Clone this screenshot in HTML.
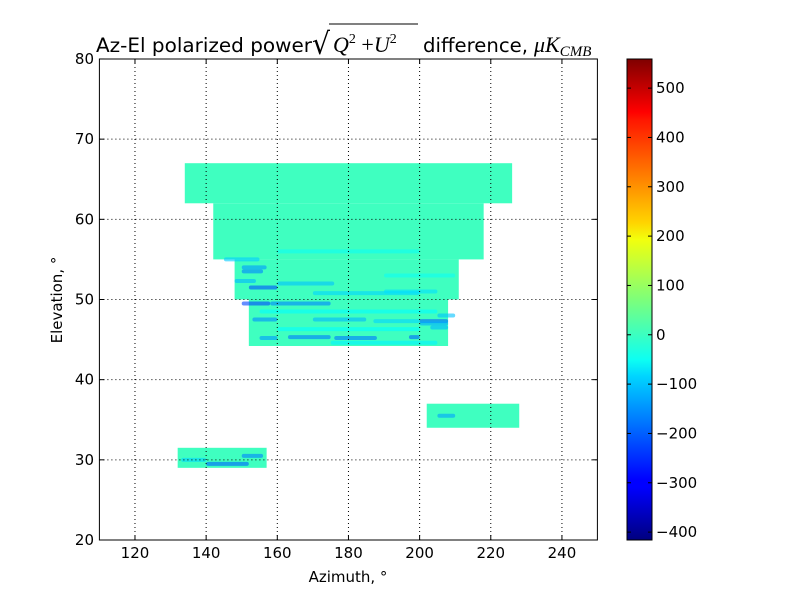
<!DOCTYPE html>
<html><head><meta charset="utf-8"><style>
body{margin:0;background:#fff;width:800px;height:600px;overflow:hidden}
svg{font-family:"DejaVu Sans","Liberation Sans",sans-serif}
</style></head><body>
<svg id="chart" width="800" height="600">
<defs>
<linearGradient id="jet" x1="0" y1="1" x2="0" y2="0">
<stop offset="0" stop-color="#00007f"/><stop offset="0.11" stop-color="#0000ff"/>
<stop offset="0.125" stop-color="#0000ff"/><stop offset="0.34" stop-color="#00d4ff"/>
<stop offset="0.375" stop-color="#0dfff2"/><stop offset="0.5" stop-color="#7dff7a"/>
<stop offset="0.625" stop-color="#f2ff0d"/><stop offset="0.66" stop-color="#ffd400"/>
<stop offset="0.875" stop-color="#ff1500"/><stop offset="0.89" stop-color="#ff0000"/>
<stop offset="1" stop-color="#7f0000"/></linearGradient>
<clipPath id="pc"><rect x="99.4" y="59" width="498" height="481"/></clipPath>
</defs>
<g id="data" clip-path="url(#pc)"></g>
<g id="grid"></g>
<rect x="99.4" y="59" width="498" height="481" fill="none" stroke="#000"/>
<g id="axes"></g>
<g>
<text x="96" y="52" font-size="19.5" textLength="216" lengthAdjust="spacingAndGlyphs">Az-El polarized power</text>
<text x="312" y="54" font-size="30" font-family="DejaVu Sans" textLength="18" lengthAdjust="spacingAndGlyphs">√</text>
<line x1="329" y1="24" x2="418" y2="24" stroke="#000" stroke-width="1"/>
<text x="333" y="52" font-family="Liberation Serif" font-style="italic" font-size="22">Q<tspan font-style="normal" font-size="14" dy="-9">2</tspan><tspan font-style="normal" dy="9"> +</tspan>U<tspan font-style="normal" font-size="14" dy="-9">2</tspan></text>
<text x="423" y="52" font-size="19.5" textLength="105" lengthAdjust="spacingAndGlyphs">difference,</text>
<text x="534" y="52" font-family="Liberation Serif" font-style="italic" font-size="22">μK<tspan font-size="15" dy="4">CMB</tspan></text>
</g>
<text x="348" y="582" text-anchor="middle" font-size="15">Azimuth, °</text>
<text transform="translate(62,300) rotate(-90)" text-anchor="middle" font-size="15">Elevation, °</text>
<rect x="627" y="59" width="25" height="481" fill="url(#jet)" stroke="#000"/>
<g id="cbar"></g>
</svg>
<script>
const xTicks=[120,140,160,180,200,220,240];
const yTicks=[20,30,40,50,60,70,80];
const cTicks=[-400,-300,-200,-100,0,100,200,300,400,500];
// region bands: [azStart, azEnd, elLow, elHigh]
const bandAz0=[134,142,148,152,132,202];
const bandAz1=[226,218,211,208,157,228];
const bandEl0=[62,55,50,44.2,29,34];
const bandEl1=[67,62,55,50,31.5,37];
const baseVal=10;
// streaks: az0, az1, el, value
const stAz0=[150,148,152,160,170,150,158,190,205,153,170,187,200,155,163,176,197,200,203,145,150,205,133,140,150,155,160,190,160,175];
const stAz1=[156,154,160,176,200,158,175,205,210,160,185,200,208,160,175,188,200,208,208,155,157,210,140,152,156,205,200,210,200,205];
const stEl =[53.5,52.3,51.5,52,50.8,49.5,49.5,51,48,47.5,47.5,47.3,47.3,45.2,45.3,45.2,45.3,47,46.5,55,54,35.5,30,29.5,30.5,48.5,46.3,53,56,44.6];
const stVal=[-170,-120,-220,-110,-90,-230,-170,-80,-110,-160,-120,-90,-200,-150,-180,-180,-200,-130,-120,-100,-150,-140,-90,-200,-170,-50,-50,-40,-40,-60];
const X=a=>99.4+(a-110)*3.558, Y=e=>540-(e-20)*8.017;
const vmin=-416,vmax=559;
const CY=v=>540-(v-vmin)/(vmax-vmin)*481;
function jet(v){const x=(v-vmin)/(vmax-vmin);const c=t=>Math.round(255*Math.max(0,Math.min(1,t)));
return `rgb(${c(1.5-Math.abs(4*x-3))},${c(1.5-Math.abs(4*x-2))},${c(1.5-Math.abs(4*x-1))})`;}
const NS='http://www.w3.org/2000/svg';
function mk(t,p,at){const e=document.createElementNS(NS,t);for(const k in at)e.setAttribute(k,at[k]);p.appendChild(e);return e;}
const D=document.getElementById('data');
for(let i=0;i<bandAz0.length;i++){
 const r=mk('rect',D,{x:X(bandAz0[i]),y:Y(bandEl1[i]),width:X(bandAz1[i])-X(bandAz0[i]),height:Y(bandEl0[i])-Y(bandEl1[i]),fill:jet(baseVal)});
 
 
}
for(let i=0;i<stAz0.length;i++){
 const r=mk('rect',D,{x:X(stAz0[i]),y:Y(stEl[i])-2,width:X(stAz1[i])-X(stAz0[i]),height:4,fill:jet(stVal[i]),rx:2,opacity:0.6});
 
 
}
const G=document.getElementById('grid'),A=document.getElementById('axes');
xTicks.forEach(t=>{const x=X(t);
 mk('line',G,{x1:x,y1:59,x2:x,y2:540,stroke:'#000','stroke-dasharray':'1,3','stroke-width':1});
 mk('line',A,{x1:x,y1:540,x2:x,y2:535,stroke:'#000'});mk('line',A,{x1:x,y1:59,x2:x,y2:64,stroke:'#000'});
 const tx=mk('text',A,{x:x,y:558,'text-anchor':'middle','font-size':15});tx.textContent=t;
 
 
});
yTicks.forEach(t=>{const y=Y(t);
 mk('line',G,{x1:99.4,y1:y,x2:597.4,y2:y,stroke:'#000','stroke-dasharray':'1,3','stroke-width':1});
 mk('line',A,{x1:99.4,y1:y,x2:104.4,y2:y,stroke:'#000'});mk('line',A,{x1:597.4,y1:y,x2:592.4,y2:y,stroke:'#000'});
 const tx=mk('text',A,{x:94,y:y+5,'text-anchor':'end','font-size':15});tx.textContent=t;
 
 
});
const C=document.getElementById('cbar');
cTicks.forEach(t=>{const y=CY(t);
 mk('line',C,{x1:627,y1:y,x2:631,y2:y,stroke:'#000'});mk('line',C,{x1:652,y1:y,x2:648,y2:y,stroke:'#000'});
 const tx=mk('text',C,{x:656,y:y+5,'font-size':15});tx.textContent=(t<0?'\u2212'+(-t):t);
 
 
});
</script>
</body></html>
